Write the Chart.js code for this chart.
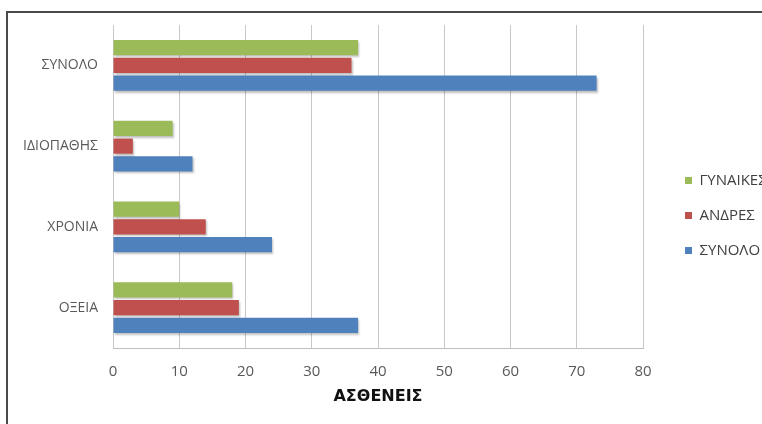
<!DOCTYPE html>
<html>
<head>
<meta charset="utf-8">
<script src="https://cdn.jsdelivr.net/npm/chart.js@4/dist/chart.umd.min.js"></script>
<style>
  html, body { margin: 0; padding: 0; background: #fff; overflow: hidden; }
  #frame { position: absolute; left: 6px; top: 11px; width: 820px; height: 480px; border: 2px solid #4a4a4a; }
  #wrap { position: absolute; left: 0; top: 0; width: 800px; height: 424px; }
</style>
</head>
<body>
<div id="frame"></div>
<div id="wrap"><canvas id="chartjs-0" width="800" height="424"></canvas></div>
<script>
// categories, top to bottom
var categories = ["ΣΥΝΟΛΟ", "ΙΔΙΟΠΑΘΗΣ", "ΧΡΟΝΙΑ", "ΟΞΕΙΑ"];
// series values
var women = [37, 9, 10, 18];
var men = [36, 3, 14, 19];
var total = [73, 12, 24, 37];
var xTicks = [0, 10, 20, 30, 40, 50, 60, 70, 80];

/* soft shadow under bars, like the office chart */
var barShadow = {
    id: "barShadow",
    beforeDatasetsDraw: function (chart) {
        var ctx = chart.ctx;
        ctx.save();
        ctx.shadowColor = "rgba(0,0,0,0.25)";
        ctx.shadowBlur = 2;
        ctx.shadowOffsetX = 1;
        ctx.shadowOffsetY = 2;
    },
    afterDatasetsDraw: function (chart) {
        chart.ctx.restore();
    }
};

/* plot ends at 643, legend stands a bit further right (text runs off the page) */
var fixLayout = {
    id: "fixLayout",
    afterLayout: function (chart) {
        var lg = chart.legend;
        var shift = 683 - 18 - lg.left;
        lg.left += shift;
        lg.right += shift;
    }
};

var ctx0 = document.getElementById("chartjs-0");
var myChart = new Chart(ctx0, {
    type: "bar",
    data: {
        labels: categories,
        datasets: [
            { label: "ΓΥΝΑΙΚΕΣ", data: women, backgroundColor: "#9bbb59" },
            { label: "ΑΝΔΡΕΣ", data: men, backgroundColor: "#c0504d" },
            { label: "ΣΥΝΟΛΟ", data: total, backgroundColor: "#4f81bd" }
        ]
    },
    options: {
        indexAxis: "y",
        responsive: false,
        animation: false,
        maintainAspectRatio: false,
        categoryPercentage: 0.66,
        barPercentage: 0.85,
        layout: { padding: { left: 0, top: 25, right: 0, bottom: 18 } },
        plugins: {
            legend: {
                position: "right",
                labels: {
                    boxWidth: 7,
                    boxHeight: 7,
                    padding: 20,
                    color: "#404040",
                    font: { family: "'Open Sans'", size: 15 }
                }
            },
            tooltip: { enabled: false }
        },
        scales: {
            x: {
                min: 0,
                max: 80,
                afterBuildTicks: function (axis) {
                    axis.ticks = xTicks.map(function (v) { return { value: v }; });
                },
                afterFit: function (axis) { axis.height = 58; },
                grid: { drawTicks: false, color: "#c8c8c8" },
                border: { color: "#bdbdbd" },
                ticks: { padding: 15, color: "#595959", font: { family: "'Open Sans'", size: 15 } },
                title: {
                    display: true,
                    text: "ΑΣΘΕΝΕΙΣ",
                    color: "#111",
                    padding: { top: 0, bottom: 0 },
                    font: { family: "'DejaVu Sans'", size: 16, weight: "bold" }
                }
            },
            y: {
                afterFit: function (axis) { axis.width = 113; },
                grid: { display: false, drawTicks: false },
                border: { display: false },
                ticks: { padding: 15, color: "#595959", font: { family: "'Open Sans'", size: 14 } }
            }
        }
    },
    plugins: [barShadow, fixLayout]
});

// put the right edge of the plot at 643
var extra = myChart.chartArea.right - 643;
myChart.options.layout.padding.right = extra;
myChart.update();
</script>
</body>
</html>
